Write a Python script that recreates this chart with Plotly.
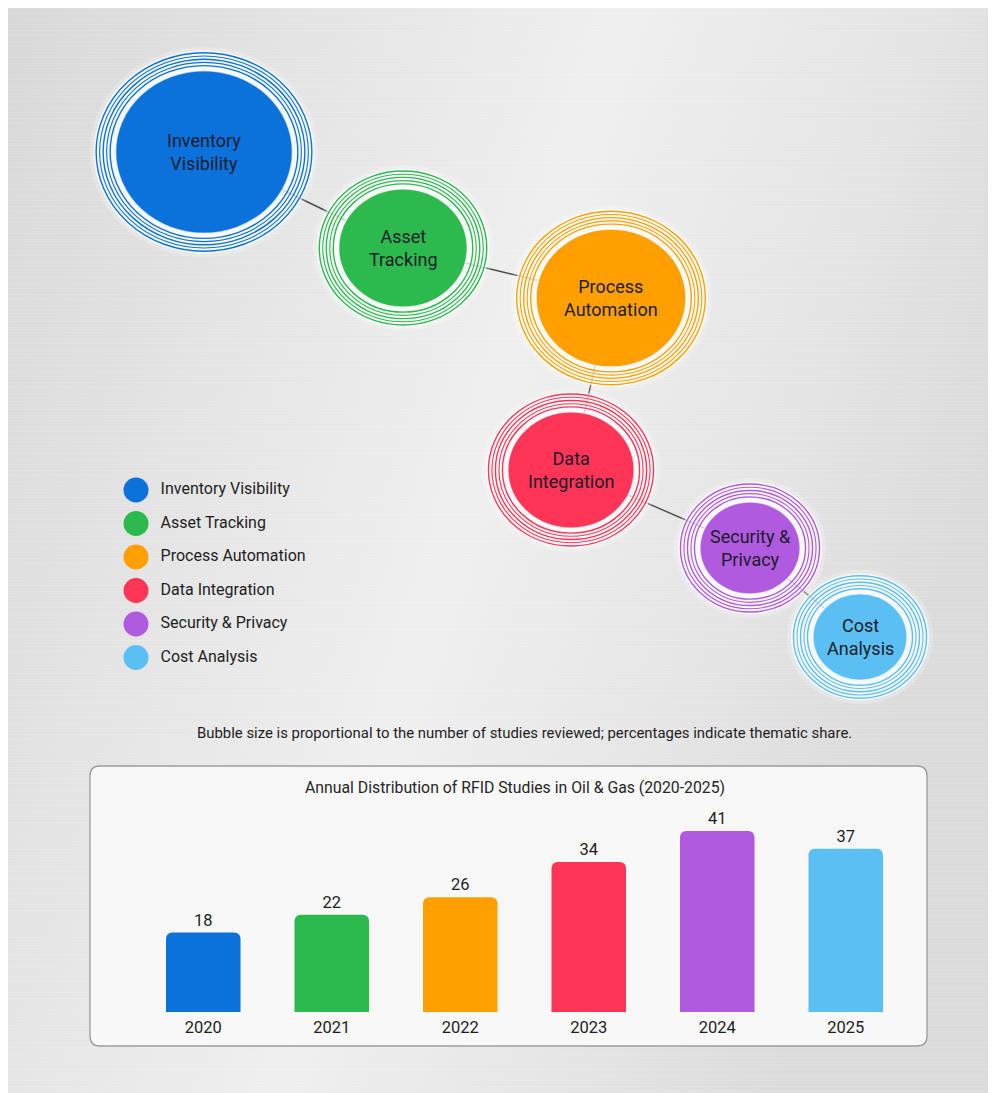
import base64
import plotly.graph_objects as go

# ---------------- data ----------------
themes = ["Inventory Visibility", "Asset Tracking", "Process Automation",
          "Data Integration", "Security & Privacy", "Cost Analysis"]
bubble_labels = ["Inventory<br>Visibility", "Asset<br>Tracking", "Process<br>Automation",
                 "Data<br>Integration", "Security &<br>Privacy", "Cost<br>Analysis"]
studies = [53, 28, 38, 27, 17, 15]          # studies reviewed per theme (bubble size)
colors = ["#0b72dc", "#2cba4f", "#ffa000", "#ff3557", "#b05ae0", "#5bbff3"]

years = ["2020", "2021", "2022", "2023", "2024", "2025"]
year_counts = [18, 22, 26, 34, 41, 37]

caption = "Bubble size is proportional to the number of studies reviewed; percentages indicate thematic share."
bar_title = "Annual Distribution of RFID Studies in Oil & Gas (2020-2025)"

# ---------------- layout helpers (screen pixel coords; page has an 8px body margin) ----------------
W, H = 996, 1093
OFF = 8
bubble_cx = [204, 403, 611, 571, 750, 860]
bubble_cy = [152, 248, 298, 470, 548, 637]
scale_k = 12.14   # px of radius per sqrt(study)
aspect = 0.92     # vertical squash of bubbles

FONT = "Roboto, 'Noto Sans', Arial, sans-serif"

fig = go.Figure()

# background brushed-metal image
stripes = ""
pattern_rows = [(0, 0.10), (3, 0.05), (5, 0.12), (8, 0.04), (11, 0.09), (13, 0.06), (16, 0.11), (19, 0.05)]
for yy, op in pattern_rows:
    stripes += f'<rect x="0" y="{yy}" width="400" height="1" fill="#ffffff" fill-opacity="{op}"/>'
svg = f'''<svg xmlns="http://www.w3.org/2000/svg" width="{W}" height="{H}" viewBox="0 0 {W} {H}">
<defs>
<linearGradient id="g" x1="0" y1="0" x2="1" y2="0.35">
<stop offset="0" stop-color="#d8d8d8"/>
<stop offset="0.35" stop-color="#e7e7e7"/>
<stop offset="0.55" stop-color="#efefef"/>
<stop offset="0.8" stop-color="#e5e5e5"/>
<stop offset="1" stop-color="#dbdbdb"/>
</linearGradient>
<pattern id="p" width="400" height="22" patternUnits="userSpaceOnUse">{stripes}</pattern>
</defs>
<rect width="{W}" height="{H}" fill="url(#g)"/>
<rect width="{W}" height="{H}" fill="url(#p)"/>
</svg>'''
src = "data:image/svg+xml;base64," + base64.b64encode(svg.encode()).decode()

shapes = []

# connectors
for i in range(len(themes) - 1):
    shapes.append(dict(type="line", xref="x", yref="y", layer="above",
                       x0=bubble_cx[i], y0=bubble_cy[i], x1=bubble_cx[i + 1], y1=bubble_cy[i + 1],
                       line=dict(color="#4a4a4a", width=1.4)))

# bubbles with concentric rings
for i, n in enumerate(studies):
    r = scale_k * n ** 0.5
    cx, cy, c = bubble_cx[i], bubble_cy[i], colors[i]

    def ell(rad, **kw):
        return dict(type="circle", xref="x", yref="y", layer="above",
                    x0=cx - rad, x1=cx + rad, y0=cy - rad * aspect, y1=cy + rad * aspect, **kw)

    shapes.append(ell(r + 26, fillcolor="rgba(255,255,255,0.22)", line=dict(width=0)))
    shapes.append(ell(r + 22, fillcolor="rgba(255,255,255,0.7)", line=dict(width=0)))
    for j, d in enumerate([5.5, 9, 12.5, 16, 19.5]):
        shapes.append(ell(r + d, fillcolor="rgba(0,0,0,0)", line=dict(color=c, width=1.4 if j % 2 == 0 else 1.1)))
    shapes.append(ell(r, fillcolor=c, line=dict(color="rgba(255,255,255,0.6)", width=1.5)))

# bar chart panel (rounded rectangle)
px0, py0, px1, py1, rr = 90, 766, 927, 1046, 10
panel_path = (f"M {px0+rr},{py0} L {px1-rr},{py0} Q {px1},{py0} {px1},{py0+rr} "
              f"L {px1},{py1-rr} Q {px1},{py1} {px1-rr},{py1} L {px0+rr},{py1} "
              f"Q {px0},{py1} {px0},{py1-rr} L {px0},{py0+rr} Q {px0},{py0} {px0+rr},{py0} Z")
shapes.append(dict(type="path", xref="x", yref="y", layer="below", path=panel_path,
                   fillcolor="#f8f8f8", line=dict(color="#9c9c9c", width=1.3)))

annotations = []
for i, lab in enumerate(bubble_labels):
    annotations.append(dict(x=bubble_cx[i], y=bubble_cy[i], xref="x", yref="y", text=lab,
                            showarrow=False, font=dict(family=FONT, size=18, color="#1c1c2a")))
annotations.append(dict(x=524.5, y=733, xref="x", yref="y", text=caption, showarrow=False,
                        font=dict(family=FONT, size=14.9, color="#1e1e1e")))
annotations.append(dict(x=514.5, y=787, xref="x", yref="y", text=bar_title, showarrow=False,
                        font=dict(family=FONT, size=15.8, color="#262626")))

# legend (custom, markers + text)
leg_x, leg_y0, leg_dy = 136, 490, 33.5
fig.add_trace(go.Scatter(
    x=[leg_x] * len(themes), y=[leg_y0 + i * leg_dy for i in range(len(themes))],
    mode="markers+text", text=["  " + t for t in themes], textposition="middle right",
    textfont=dict(family=FONT, size=16, color="#1e1e1e"),
    marker=dict(size=25, color=colors, line=dict(width=0)),
    hoverinfo="skip", showlegend=False, xaxis="x", yaxis="y", cliponaxis=False))

# bar chart
fig.add_trace(go.Bar(
    x=years, y=year_counts, marker=dict(color=colors, cornerradius=6, line=dict(width=0)),
    text=[str(v) for v in year_counts], textposition="outside",
    textfont=dict(family=FONT, size=16.5, color="#1e1e1e"), cliponaxis=False,
    xaxis="x2", yaxis="y2", showlegend=False, hoverinfo="skip"))

bar_bottom_px, px_per_unit, yr_max = 1012, 4.415, 45
y2_lo = (H - (bar_bottom_px - OFF)) / H
y2_hi = (H - (bar_bottom_px - OFF - px_per_unit * yr_max)) / H

fig.update_layout(
    width=W, height=H, margin=dict(l=0, r=0, t=0, b=0),
    paper_bgcolor="#e4e4e4", plot_bgcolor="rgba(0,0,0,0)",
    showlegend=False,
    xaxis=dict(domain=[0, 1], range=[OFF, W + OFF], visible=False, fixedrange=True),
    yaxis=dict(domain=[0, 1], range=[H + OFF, OFF], visible=False, fixedrange=True),
    xaxis2=dict(domain=[(139 - OFF) / W, (910 - OFF) / W], anchor="y2", showgrid=False, zeroline=False,
                showline=False, ticks="", tickfont=dict(family=FONT, size=16.5, color="#1e1e1e"),
                ticklabelstandoff=3, fixedrange=True),
    yaxis2=dict(domain=[y2_lo, y2_hi], anchor="x2", range=[0, yr_max], visible=False, fixedrange=True),
    bargap=0.42,
    shapes=shapes, annotations=annotations,
    images=[dict(source=src, xref="paper", yref="paper", x=0, y=1,
                 sizex=1, sizey=1, sizing="stretch",
                 xanchor="left", yanchor="top", layer="below")],
    font=dict(family=FONT),
)

fig.write_html("out.html")
